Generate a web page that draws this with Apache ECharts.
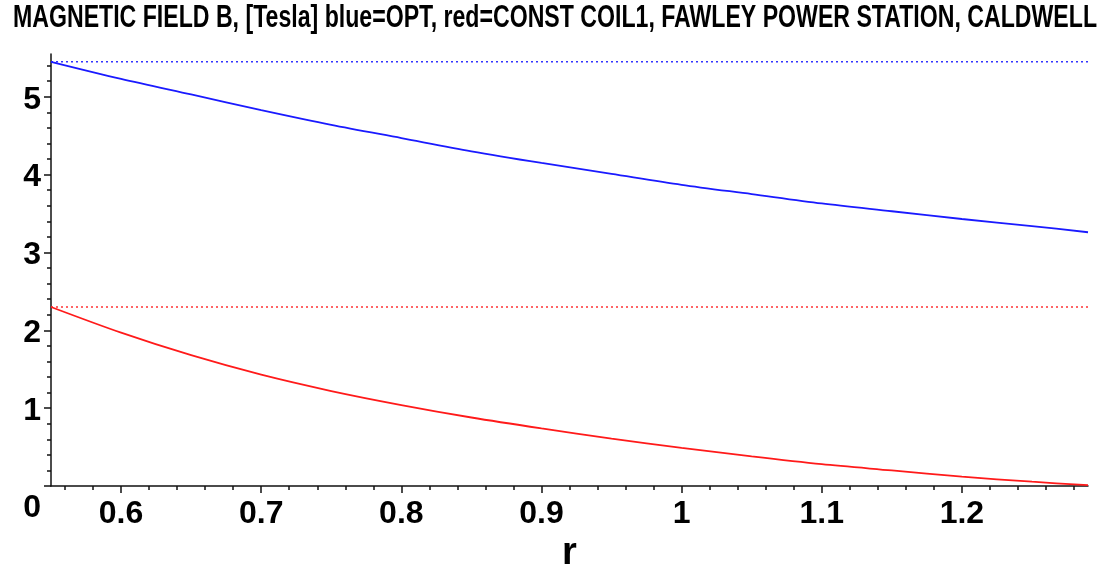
<!DOCTYPE html>
<html>
<head>
<meta charset="utf-8">
<script src="https://cdn.jsdelivr.net/npm/echarts@6/dist/echarts.min.js"></script>
<style>
html,body{margin:0;padding:0;background:#fff;}
#chart{width:1116px;height:565px;}
</style>
</head>
<body>
<div id="chart"></div>
<script>
// ---- data ----
const titleText = 'MAGNETIC FIELD B, [Tesla] blue=OPT, red=CONST COIL1, FAWLEY POWER STATION, CALDWELL';
const xName = 'r';
const rVals  = [0.55, 0.60, 0.65, 0.70, 0.75, 0.80, 0.85, 0.90, 0.95, 1.00, 1.05, 1.10, 1.15, 1.20, 1.25, 1.29];
const blueB  = [5.45, 5.23, 5.03, 4.83, 4.64, 4.47, 4.30, 4.15, 4.01, 3.87, 3.75, 3.63, 3.53, 3.43, 3.34, 3.26];
const redB   = [2.30, 1.97, 1.68, 1.43, 1.22, 1.04, 0.88, 0.74, 0.61, 0.49, 0.38, 0.28, 0.20, 0.12, 0.055, 0.01];
const blueRef = 5.45;
const redRef  = 2.30;
const xTickLabels = [0.6, 0.7, 0.8, 0.9, 1.0, 1.1, 1.2];
const yTickLabels = [0, 1, 2, 3, 4, 5];

// ---- axis ranges ----
const xMin = 0.55, xMax = 1.29, yMin = 0, yMax = 5.55;
const xMinor = [];
for (let k = 28; k <= 64; k++) xMinor.push(Math.round(k * 2) / 100);
const yMinor = [];
for (let k = 0; k <= 27; k++) yMinor.push(Math.round(k * 2) / 10);

const FONT = '"Liberation Sans Narrow", "Liberation Sans", Arial, sans-serif';
const LSIZE = 32;

const pair = (xs, ys) => xs.map((x, i) => [x, ys[i]]);

// title horizontal compression (condensed look)
const cv = document.createElement('canvas').getContext('2d');
cv.font = 'bold 31px ' + FONT;
const tw = cv.measureText(titleText).width;
const titleScale = 1084 / tw;

const chart = echarts.init(document.getElementById('chart'), null, {renderer: 'canvas'});
const labelStyle = {fontFamily: FONT, fontWeight: 'bold', fontSize: LSIZE, color: '#000'};
const tokenStyle = {fontFamily: FONT, fontWeight: 'bold', fontSize: LSIZE, color: '#000'};

chart.setOption({
  animation: false,
  backgroundColor: '#fff',
  graphic: [{
    type: 'text', x: 13, y: 3, scaleX: titleScale,
    style: {text: titleText, font: 'bold 31px ' + FONT, fill: '#000', align: 'left', verticalAlign: 'top'}
  }],
  grid: {left: 51, right: 28, top: 54, bottom: 79, containLabel: false, outerBoundsMode: 'none'},
  xAxis: [{
    type: 'value', min: xMin, max: xMax, position: 'bottom',
    name: xName, nameLocation: 'middle', nameGap: 41,
    nameTextStyle: {fontFamily: FONT, fontWeight: 'bold', fontSize: 38, color: '#000'},
    axisLine: {show: true, onZero: false, lineStyle: {color: '#111', width: 1.5}},
    axisTick: {show: true, customValues: xMinor, length: 4, lineStyle: {color: '#111', width: 1.5}},
    axisLabel: Object.assign({show: true, customValues: xTickLabels, margin: 12}, labelStyle),
    splitLine: {show: false}
  }, {
    type: 'value', min: xMin, max: xMax, position: 'bottom', offset: 0,
    axisLine: {show: false},
    axisTick: {show: true, customValues: xTickLabels, length: 7, lineStyle: {color: '#111', width: 1.5}},
    axisLabel: {show: false},
    splitLine: {show: false}
  }],
  yAxis: [{
    type: 'value', min: yMin, max: yMax, position: 'left',
    axisLine: {show: true, onZero: false, lineStyle: {color: '#111', width: 1.5}},
    axisTick: {show: true, customValues: yMinor, length: 4, lineStyle: {color: '#111', width: 1.5}},
    axisLabel: Object.assign({
      show: true, customValues: yTickLabels, margin: 10,
      formatter: v => (v === 0 ? '{z|0}' : '{a|' + v + '}'),
      rich: {
        a: Object.assign({padding: [6, 0, 0, 0]}, tokenStyle),
        z: Object.assign({padding: [44, 0, 0, 0]}, tokenStyle)
      }
    }, labelStyle),
    splitLine: {show: false}
  }, {
    type: 'value', min: yMin, max: yMax, position: 'left', offset: 0,
    axisLine: {show: false},
    axisTick: {show: true, customValues: yTickLabels, length: 7, lineStyle: {color: '#111', width: 1.5}},
    axisLabel: {show: false},
    splitLine: {show: false}
  }],
  series: [
    {type: 'line', name: 'OPT', data: pair(rVals, blueB), showSymbol: false, smooth: 0.3,
     lineStyle: {color: '#1a1aff', width: 1.8}, z: 3},
    {type: 'line', name: 'CONST COIL1', data: pair(rVals, redB), showSymbol: false, smooth: 0.3,
     lineStyle: {color: '#ff1a1a', width: 1.8}, z: 3},
    {type: 'line', name: 'OPT max', data: [[xMin, blueRef], [xMax, blueRef]], showSymbol: false,
     lineStyle: {color: '#3333ff', width: 1.5, type: [2, 3]}, z: 2},
    {type: 'line', name: 'CONST max', data: [[xMin, redRef], [xMax, redRef]], showSymbol: false,
     lineStyle: {color: '#ff3333', width: 1.5, type: [2, 3]}, z: 2}
  ]
});
</script>
</body>
</html>
